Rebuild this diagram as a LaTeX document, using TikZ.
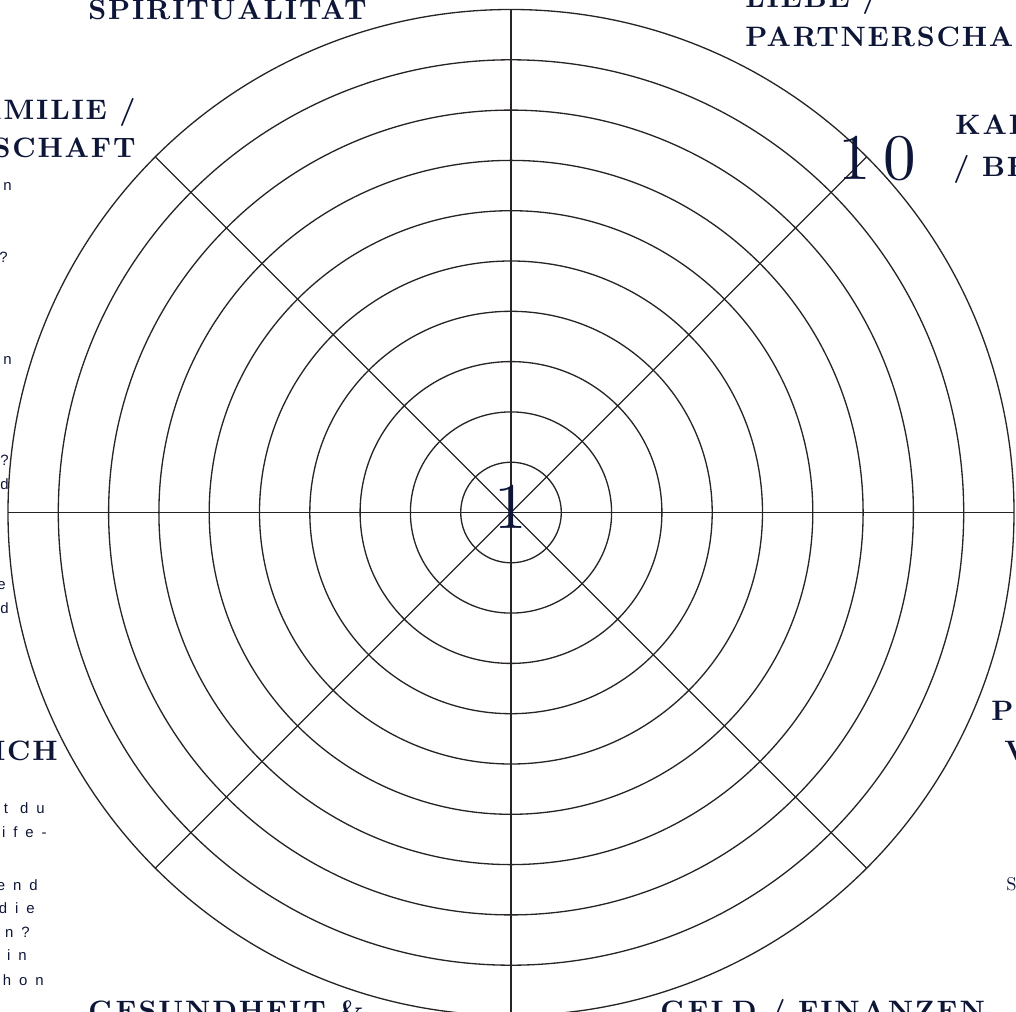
\documentclass[tikz,border=0pt]{standalone}
\usepackage{fontspec}
\newfontfamily\headfont{lmroman10}[Extension=.otf, UprightFont=*-regular, BoldFont=*-bold, LetterSpace=6.5]
\newfontfamily\digitfont{lmroman10}[Extension=.otf, UprightFont=*-regular, LetterSpace=20]
\newfontfamily\noteserif{lmroman10}[Extension=.otf, UprightFont=*-regular]
\newfontfamily\bodyfont{Liberation Sans}[LetterSpace=53]
\definecolor{wheelNavy}{RGB}{14,22,56}
\definecolor{wheelLine}{RGB}{40,36,38}
\tikzset{
    ring/.style={
        draw=wheelLine,
        line width=0.75pt
    },
    spoke/.style={
        draw=wheelLine,
        line width=0.75pt
    },
    areaTitle/.style={
        text=wheelNavy,
        inner sep=0pt,
        font=\headfont\bfseries\fontsize{16}{19}\selectfont
    },
    scaleNum/.style={
        text=wheelNavy,
        inner sep=0pt,
        font=\digitfont\fontsize{37}{40}\selectfont
    },
    bodyText/.style={
        text=wheelNavy,
        inner sep=0pt,
        font=\bodyfont\fontsize{8.5}{12}\selectfont
    }
}

\begin{document}
\begin{tikzpicture}[x=0.2mm, y=-0.2mm]
            % Frame
            \useasboundingbox (0,0) rectangle (1016,1012);
            \clip (0,0) rectangle (1016,1012);

            % Centre
            \coordinate (c) at (511,512.5);

            % Rings 1 ... 10
            \foreach \k in {1,...,10}
                \draw[ring] (c) circle[radius={50.3*\k}];

            % Spokes
            \foreach \a in {0,45,...,315} {
                \path (c) ++(\a:503) coordinate (s\a);
                \draw[spoke] (c) -- (s\a);
            }

            % Scale
            \node[scaleNum, anchor=base west] (one) at (494,528) {1};
            \node[scaleNum, anchor=base west] (ten) at (838,180) {10};

            % Areas
            \node[areaTitle, anchor=base west] (spirit) at (88,20) {SPIRITUALITÄT};
            \node[areaTitle, anchor=base west] (liebeA) at (745,8) {LIEBE /};
            \node[areaTitle, anchor=base west] (liebeB) at (745,47) {PARTNERSCHAFT};
            \node[areaTitle, anchor=base west] (karrA) at (955,135) {KARRIERE};
            \node[areaTitle, anchor=base west] (karrB) at (953,177) {/ BERUF};
            \node[areaTitle, anchor=base east] (famA) at (136,120) {FAMILIE /};
            \node[areaTitle, anchor=base east] (famB) at (136,158) {FREUNDSCHAFT};
            \node[areaTitle, anchor=base east] (ich) at (58,760) {ICH};
            \node[areaTitle, anchor=base west] (persA) at (991,720) {P};
            \node[areaTitle, anchor=base west] (persB) at (1004,760) {V};
            \node[areaTitle, anchor=base west] (gesund) at (88,1020) {GESUNDHEIT \&};
            \node[areaTitle, anchor=base west] (geld) at (660,1020) {GELD / FINANZEN};

            % Notes (left, upper)
            \node[bodyText, anchor=base east] (noteA) at (12,191) {n};
            \node[bodyText, anchor=base east] (noteB) at (8,263) {?};
            \node[bodyText, anchor=base east] (noteC) at (12,365) {n};
            \node[bodyText, anchor=base east] (noteD) at (9,465) {?};
            \node[bodyText, anchor=base east] (noteE) at (9,489) {d};
            \node[bodyText, anchor=base east] (noteF) at (6,589) {e};
            \node[bodyText, anchor=base east] (noteG) at (9,613) {d};

            % Notes (left, lower)
            \node[bodyText, anchor=base east] (noteH) at (45,813) {t du};
            \node[bodyText, anchor=base east] (noteI) at (47,837) {ife-};
            \node[bodyText, anchor=base east] (noteJ) at (38,890) {end};
            \node[bodyText, anchor=base east] (noteK) at (35,913) {die};
            \node[bodyText, anchor=base east] (noteL) at (30,937) {n?};
            \node[bodyText, anchor=base east] (noteM) at (27,960) {in};
            \node[bodyText, anchor=base east] (noteN) at (44,985) {hon};

            % Note (right)
            \node[text=wheelNavy, inner sep=0pt, anchor=base west,
                  font=\noteserif\fontsize{10.5}{12}\selectfont] (noteS) at (1006,890) {S};
        \end{tikzpicture}
\end{document}
